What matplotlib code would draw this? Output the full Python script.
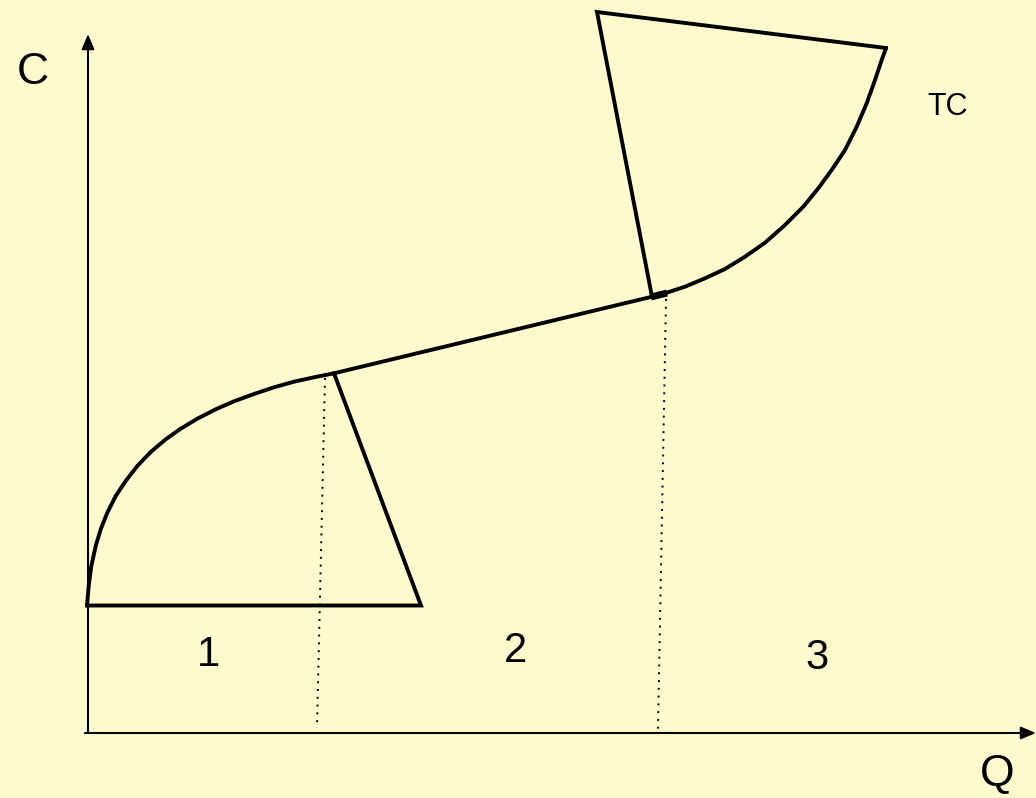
"""Total cost curve in three stages (C vs Q), drawn on a pixel-sized canvas."""

import matplotlib
matplotlib.use("Agg")
import matplotlib.pyplot as plt

plt.rcParams["font.family"] = ["Liberation Sans", "DejaVu Sans"]

W, H = 1036, 798
BG = "#FFFACD"

# concave first stage of TC (x, y in image pixels)
stage1_x = [87, 88.7, 91.3, 95.7, 100.7, 107.3, 115.7, 125.7, 137.3, 150.7,
            165.7, 180.7, 197.3, 215.7, 234, 254, 274, 294, 314, 334]
stage1_y = [605.5, 586, 566, 546, 529.3, 512.7, 496, 481, 466, 452,
            439.3, 428.7, 418.7, 409.3, 401.3, 394, 387.3, 381.7, 377.3, 373.3]
# linear middle stage
stage2_x = [334, 652]
stage2_y = [373.3, 296.7]
# convex last stage
stage3_x = [652, 666.7, 685, 705, 725, 745, 765, 785, 803.3, 818.3,
            831.7, 845, 856.7, 866.7, 875, 881.7, 886]
stage3_y = [296.7, 292.7, 286.7, 278.3, 269, 256.7, 242.7, 225, 206.7, 188.3,
            170, 150, 126.7, 103.3, 80, 60, 48]

# the two "cut-off" triangles hanging off the curve
tri1_x = [87, 421, 334]
tri1_y = [605.5, 605.5, 373.3]
tri2_x = [652, 597, 886]
tri2_y = [296.7, 12, 48]

# dotted boundaries between the stages
bound_x = [(325, 317), (666, 658)]
bound_y = [(378, 728), (299, 730)]

# axes (origin and arrow tips)
origin = (88, 733)
y_tip = (88, 34)
x_tip = (1036, 733)

region_labels = ["1", "2", "3"]
region_pos = [(208, 655), (515, 651), (817, 658)]


def main():
    fig = plt.figure(figsize=(W / 100, H / 100), dpi=100, facecolor=BG)
    ax = fig.add_axes([0, 0, 1, 1])
    ax.set_xlim(0, W)
    ax.set_ylim(H, 0)
    ax.set_facecolor(BG)
    ax.axis("off")

    # axes with arrow heads
    arrow = dict(arrowstyle="-|>,head_length=0.6,head_width=0.25",
                 lw=1.5, color="black", mutation_scale=15,
                 shrinkA=0, shrinkB=0)
    ax.annotate("", xy=y_tip, xytext=origin, arrowprops=arrow)
    ax.annotate("", xy=x_tip, xytext=(origin[0] - 3, origin[1]), arrowprops=arrow)

    # TC curve
    lw = 2.8
    for xs, ys in [(stage1_x, stage1_y), (stage2_x, stage2_y), (stage3_x, stage3_y)]:
        ax.plot(xs, ys, color="black", lw=lw, solid_capstyle="round",
                solid_joinstyle="round")
    for xs, ys in [(tri1_x, tri1_y), (tri2_x, tri2_y)]:
        ax.plot(xs, ys, color="black", lw=lw, solid_joinstyle="miter")

    # little notch where the linear part meets the last stage
    ax.plot([651, 667], [297, 293], color="black", lw=5, solid_capstyle="butt")

    for xs, ys in zip(bound_x, bound_y):
        ax.plot(xs, ys, color="black", lw=1.4, linestyle=(0, (1, 3)))

    ax.text(33, 72, "C", fontsize=32, ha="center", va="center")
    ax.text(997, 775, "Q", fontsize=32, ha="center", va="center")
    ax.text(948, 107, "TC", fontsize=22, ha="center", va="center")
    for lab, (x, y) in zip(region_labels, region_pos):
        ax.text(x, y, lab, fontsize=30, ha="center", va="center")

    fig.savefig("out.png", dpi=100, facecolor=BG)


if __name__ == "__main__":
    main()
